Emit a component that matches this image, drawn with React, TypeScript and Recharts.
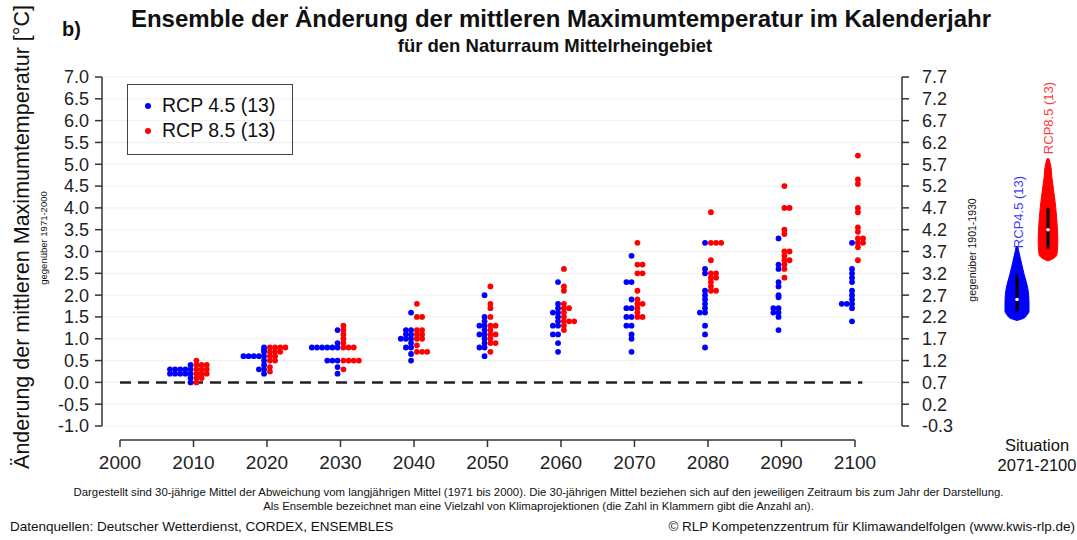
import React from 'react';
import {
  ScatterChart, Scatter, XAxis, YAxis, CartesianGrid, ReferenceLine, ReferenceDot,
  ComposedChart, Area,
} from 'recharts';

const FONT = '"Liberation Sans", Arial, sans-serif';

const DECADES = [2010, 2020, 2030, 2040, 2050, 2060, 2070, 2080, 2090, 2100];
const X_TICKS = [2000, 2010, 2020, 2030, 2040, 2050, 2060, 2070, 2080, 2090, 2100];
const LEFT_TICKS = [-1, -0.5, 0, 0.5, 1, 1.5, 2, 2.5, 3, 3.5, 4, 4.5, 5, 5.5, 6, 6.5, 7];
const RIGHT_TICKS = [-0.3, 0.2, 0.7, 1.2, 1.7, 2.2, 2.7, 3.2, 3.7, 4.2, 4.7, 5.2, 5.7, 6.2, 6.7, 7.2, 7.7];

// 13 model runs per decade, change in °C vs. 1971-2000
const RCP45 = [
  [0.4, 0.3, 0.3, 0.3, 0.3, 0.3, 0.2, 0.2, 0.2, 0.2, 0.2, 0.1, 0.0],
  [0.8, 0.75, 0.7, 0.6, 0.6, 0.6, 0.6, 0.6, 0.5, 0.4, 0.3, 0.3, 0.2],
  [1.2, 0.9, 0.8, 0.8, 0.8, 0.8, 0.8, 0.8, 0.5, 0.5, 0.5, 0.35, 0.2],
  [1.6, 1.2, 1.2, 1.1, 1.1, 1.0, 1.0, 1.0, 0.9, 0.8, 0.8, 0.65, 0.5],
  [2.0, 1.5, 1.4, 1.3, 1.3, 1.2, 1.1, 1.1, 1.0, 0.9, 0.8, 0.8, 0.6],
  [2.3, 1.8, 1.7, 1.6, 1.6, 1.5, 1.4, 1.3, 1.3, 1.1, 1.1, 0.9, 0.7],
  [2.9, 2.3, 2.3, 1.9, 1.7, 1.7, 1.5, 1.5, 1.3, 1.3, 1.1, 1.0, 0.7],
  [3.2, 2.6, 2.5, 2.1, 2.0, 1.9, 1.8, 1.7, 1.6, 1.6, 1.3, 1.1, 0.8],
  [3.3, 2.7, 2.6, 2.3, 2.2, 2.0, 1.95, 1.7, 1.7, 1.6, 1.6, 1.5, 1.2],
  [3.2, 2.6, 2.5, 2.4, 2.3, 2.1, 2.0, 1.9, 1.8, 1.8, 1.8, 1.7, 1.4],
];
const RCP85 = [
  [0.5, 0.4, 0.4, 0.4, 0.3, 0.3, 0.3, 0.2, 0.2, 0.2, 0.1, 0.1, 0.0],
  [0.8, 0.8, 0.8, 0.8, 0.7, 0.7, 0.7, 0.6, 0.6, 0.5, 0.5, 0.35, 0.25],
  [1.3, 1.2, 1.1, 1.0, 0.9, 0.8, 0.8, 0.8, 0.5, 0.5, 0.5, 0.5, 0.3],
  [1.8, 1.5, 1.5, 1.2, 1.2, 1.1, 1.1, 1.0, 1.0, 0.85, 0.7, 0.7, 0.7],
  [2.2, 1.8, 1.7, 1.5, 1.3, 1.3, 1.2, 1.1, 1.1, 1.0, 0.9, 0.9, 0.7],
  [2.6, 2.2, 2.1, 1.8, 1.7, 1.7, 1.6, 1.5, 1.4, 1.4, 1.4, 1.3, 1.2],
  [3.2, 2.7, 2.7, 2.5, 2.5, 2.1, 1.9, 1.8, 1.8, 1.7, 1.6, 1.5, 1.5],
  [3.9, 3.2, 3.2, 3.2, 2.8, 2.5, 2.5, 2.4, 2.4, 2.3, 2.2, 2.1, 2.1],
  [4.5, 4.0, 4.0, 3.5, 3.4, 3.0, 3.0, 2.9, 2.8, 2.8, 2.7, 2.6, 2.4],
  [5.2, 4.65, 4.55, 4.0, 3.9, 3.55, 3.45, 3.3, 3.3, 3.2, 3.2, 3.1, 2.8],
];

// violin outlines for 2071-2100 (level, half width)
const VIOLIN45_LEVELS = [1.42, 1.47, 1.55, 1.63, 1.86, 2.16, 2.48, 2.78, 3.0, 3.12];
const VIOLIN45_WIDTHS = [0, 0.22, 0.33, 0.39, 0.39, 0.35, 0.23, 0.13, 0.06, 0.02];
const VIOLIN85_LEVELS = [2.78, 2.85, 2.93, 3.23, 3.69, 4.15, 4.68, 5.0, 5.14];
const VIOLIN85_WIDTHS = [0, 0.2, 0.29, 0.32, 0.29, 0.23, 0.13, 0.08, 0.02];
const BOX45 = [1.63, 1.9, 2.48];
const BOX85 = [3.07, 3.5, 3.99];

const SERIES = [
  { name: 'RCP 4.5 (13)', color: '#0000ff' },
  { name: 'RCP 8.5 (13)', color: '#ff0000' },
];

// dot plot: equal values get stacked sideways (blue to the left, red to the right)
function buildPoints(values: number[][], side: number) {
  const pts: { x: number; y: number }[] = [];
  values.forEach((list, i) => {
    const seen = new Map<number, number>();
    list.forEach((v) => {
      const k = seen.get(v) || 0;
      seen.set(v, k + 1);
      pts.push({ x: DECADES[i] + side * (0.4 + k * 0.7), y: v });
    });
  });
  return pts;
}

const XTick = (props: any) => {
  const { x, y, payload } = props;
  return (
    <g>
      <line x1={x} x2={x} y1={y + 14} y2={y + 21} stroke="#333" strokeWidth={1.5} />
      <text x={x} y={y + 43} textAnchor="middle" fontSize={19} fill="#222">{payload.value}</text>
    </g>
  );
};

const LegendBox = () => (
  <div style={{ position: 'absolute', left: 127, top: 84, border: '1px solid #444', width: 166, height: 71, boxSizing: 'border-box', padding: '8px 0 0 17px', fontSize: 19.5, color: '#111' }}>
    {SERIES.map((s) => (
      <div key={s.name} style={{ display: 'flex', alignItems: 'center', height: 25 }}>
        <span style={{ width: 6, height: 6, borderRadius: 3, background: s.color, marginRight: 11 }} />
        {s.name}
      </div>
    ))}
  </div>
);

function Violin({ levels, widths, box, color, left }: any) {
  const data = levels.map((v: number, i: number) => ({ v, band: [-widths[i], widths[i]] }));
  return (
    <div style={{ position: 'absolute', left, top: 0 }}>
      <ComposedChart layout="vertical" width={40} height={540} data={data} margin={{ top: 77, bottom: 114, left: 0, right: 0 }}>
        <XAxis type="number" domain={[-0.65, 0.65]} hide />
        <YAxis type="number" dataKey="v" domain={[-1, 7]} reversed hide />
        <Area dataKey="band" type="monotone" fill={color} stroke={color} fillOpacity={1} isAnimationActive={false} />
        <ReferenceLine segment={[{ x: 0, y: box[0] }, { x: 0, y: box[2] }]} stroke="#000" strokeWidth={3} />
        <ReferenceDot x={0} y={box[1]} r={1.8} fill="#fff" stroke="none" />
      </ComposedChart>
    </div>
  );
}

const abs = (x: number, y: number, extra: React.CSSProperties = {}): React.CSSProperties => ({
  position: 'absolute', left: x, top: y, whiteSpace: 'nowrap', ...extra,
});
const rot = (cx: number, cy: number, extra: React.CSSProperties = {}): React.CSSProperties => ({
  position: 'absolute', left: cx, top: cy, whiteSpace: 'nowrap',
  transform: 'translate(-50%, -50%) rotate(-90deg)', ...extra,
});

export default function App() {
  const blue = buildPoints(RCP45, -1);
  const red = buildPoints(RCP85, 1);
  return (
    <div style={{ position: 'absolute', left: 0, top: 0, width: 1077, height: 540, background: '#fff', fontFamily: FONT, color: '#111', overflow: 'hidden' }}>
      <div style={abs(62, 18, { fontSize: 20, fontWeight: 'bold' })}>b)</div>
      <div style={abs(0, 5, { width: 1122, textAlign: 'center', fontSize: 24, fontWeight: 'bold' })}>
        Ensemble der Änderung der mittleren Maximumtemperatur im Kalenderjahr
      </div>
      <div style={abs(0, 35, { width: 1110, textAlign: 'center', fontSize: 18.5, fontWeight: 'bold' })}>
        für den Naturraum Mittelrheingebiet
      </div>
      <div style={rot(22, 237, { fontSize: 21.5 })}>Änderung der mittleren Maximumtemperatur [°C]</div>
      <div style={rot(43, 238, { fontSize: 9.5 })}>gegenüber 1971-2000</div>
      <div style={rot(972, 250, { fontSize: 10.5 })}>gegenüber 1901-1930</div>

      <ScatterChart width={1077} height={540} margin={{ top: 77, right: 115, bottom: 64, left: 42 }}>
        <CartesianGrid yAxisId="l" vertical={false} stroke="#efefef" />
        <XAxis type="number" dataKey="x" domain={[1997.55, 2106.4]} ticks={X_TICKS} allowDataOverflow
          axisLine={false} tickLine={false} tickSize={0} tickMargin={0} height={50} tick={<XTick />} interval={0} />
        <YAxis yAxisId="l" type="number" dataKey="y" domain={[-1, 7]} ticks={LEFT_TICKS} allowDataOverflow interval={0}
          width={60} tickSize={7} tickMargin={6} tickFormatter={(v: number) => v.toFixed(1)}
          axisLine={{ stroke: '#333', strokeWidth: 1.5 }} tickLine={{ stroke: '#333', strokeWidth: 1.5 }}
          tick={{ fontSize: 18, fill: '#222' }} />
        <YAxis yAxisId="r" orientation="right" type="number" domain={[-0.3, 7.7]} ticks={RIGHT_TICKS} allowDataOverflow interval={0}
          width={60} tickSize={7} tickMargin={13} tickFormatter={(v: number) => v.toFixed(1)}
          axisLine={{ stroke: '#333', strokeWidth: 1.5 }} tickLine={{ stroke: '#333', strokeWidth: 1.5 }}
          tick={{ fontSize: 18, fill: '#222' }} />
        <ReferenceLine yAxisId="l" segment={[{ x: 2000, y: -1.32 }, { x: 2100, y: -1.32 }]} stroke="#333" strokeWidth={1.5} ifOverflow="visible" />
        <ReferenceLine yAxisId="l" segment={[{ x: 2000, y: 0 }, { x: 2101, y: 0 }]} stroke="#222" strokeWidth={2.5} strokeDasharray="11 7" />
        <Scatter yAxisId="l" name={SERIES[0].name} data={blue} isAnimationActive={false}
          shape={(p: any) => <circle cx={p.cx} cy={p.cy} r={2.9} fill={SERIES[0].color} />} />
        <Scatter yAxisId="l" name={SERIES[1].name} data={red} isAnimationActive={false}
          shape={(p: any) => <circle cx={p.cx} cy={p.cy} r={2.9} fill={SERIES[1].color} />} />
      </ScatterChart>
      <LegendBox />

      <div style={rot(1018, 212, { fontSize: 13, color: '#3a3aff' })}>RCP4.5 (13)</div>
      <div style={rot(1048, 118, { fontSize: 13, color: '#ff3a3a' })}>RCP8.5 (13)</div>
      <Violin levels={VIOLIN45_LEVELS} widths={VIOLIN45_WIDTHS} box={BOX45} color="#0000ff" left={997} />
      <Violin levels={VIOLIN85_LEVELS} widths={VIOLIN85_WIDTHS} box={BOX85} color="#ff0000" left={1028} />

      <div style={abs(988, 435, { width: 98, textAlign: 'center', fontSize: 16.5, lineHeight: '20px' })}>Situation<br />2071-2100</div>

      <div style={abs(0, 485, { width: 1077, textAlign: 'center', fontSize: 11.4, lineHeight: '14px' })}>
        Dargestellt sind 30-jährige Mittel der Abweichung vom langjährigen Mittel (1971 bis 2000). Die 30-jährigen Mittel beziehen sich auf den jeweiligen Zeitraum bis zum Jahr der Darstellung.<br />
        Als Ensemble bezeichnet man eine Vielzahl von Klimaprojektionen (die Zahl in Klammern gibt die Anzahl an).
      </div>
      <div style={abs(10, 519, { fontSize: 13.5 })}>Datenquellen: Deutscher Wetterdienst, CORDEX, ENSEMBLES</div>
      <div style={abs(0, 519, { width: 1075, textAlign: 'right', fontSize: 13.5 })}>© RLP Kompetenzzentrum für Klimawandelfolgen (www.kwis-rlp.de)</div>
    </div>
  );
}
